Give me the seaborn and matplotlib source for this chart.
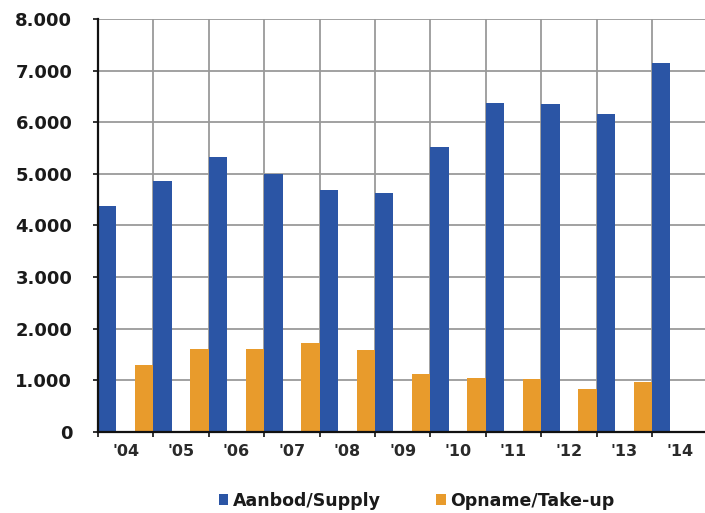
import numpy as np
import pandas as pd
import matplotlib
matplotlib.use("Agg")
import matplotlib.pyplot as plt
from matplotlib.ticker import FixedLocator, NullFormatter
import seaborn as sns

# Office space: supply vs. take-up per year
years = ["'04", "'05", "'06", "'07", "'08", "'09", "'10", "'11", "'12", "'13", "'14"]
supply = [4380, 4860, 5330, 4990, 4680, 4630, 5520, 6380, 6360, 6150, 7140]
takeup = [1290, 1600, 1600, 1710, 1580, 1120, 1050, 1030, 820, 960]
series_names = ["Aanbod/Supply", "Opname/Take-up"]
yticks = [0, 1000, 2000, 3000, 4000, 5000, 6000, 7000, 8000]

colors = {"Aanbod/Supply": "#2B55A5", "Opname/Take-up": "#E89B2C"}

# Supply sits at the left edge of each year slot, take-up at the right edge
rows = []
for i, v in enumerate(supply):
    rows.append({"pos": i - 1 / 3, "value": v, "series": series_names[0]})
for i, v in enumerate(takeup):
    rows.append({"pos": i + 1 / 3, "value": v, "series": series_names[1]})
df = pd.DataFrame(rows)

sns.set_theme(style="white")
plt.rcParams["font.family"] = ["DejaVu Sans"]

fig = plt.figure(figsize=(7.05, 5.13), dpi=100)
ax = fig.add_axes([98 / 705, 81.3 / 513, 607 / 705, 412.7 / 513])

sns.barplot(data=df, x="pos", y="value", hue="series", hue_order=series_names,
            palette=colors, native_scale=True, dodge=False, width=1,
            saturation=1, linewidth=0, ax=ax)

n = len(years)
ax.set_xlim(-0.5, -0.5 + 607 / 55.4)
ax.set_ylim(0, 8000)

# Boundaries between years carry the grid and tick marks; labels sit in between
ax.xaxis.set_major_locator(FixedLocator(np.arange(n) - 0.5))
ax.xaxis.set_major_formatter(NullFormatter())
ax.xaxis.set_minor_locator(FixedLocator(np.arange(n)))
ax.set_xticks(np.arange(n), years, minor=True)
ax.tick_params(axis="x", which="major", bottom=True, length=3.5, width=1.2,
               color="#111111", direction="out")
ax.tick_params(axis="x", which="minor", bottom=True, length=0, pad=9,
               labelsize=11.5, labelcolor="#2a2a2a")
for lab in ax.get_xticklabels(minor=True):
    lab.set_fontweight("bold")

ax.set_yticks(yticks, [f"{v:,}".replace(",", ".") for v in yticks])
ax.tick_params(axis="y", left=True, length=3.5, width=1.2, color="#111111",
               pad=15, labelsize=13, labelcolor="#1a1a1a")
for lab in ax.get_yticklabels():
    lab.set_fontweight("bold")

ax.grid(True, which="major", axis="both", color="#9a9a9a", linewidth=1.3)
ax.set_axisbelow(True)

for side in ["top", "right"]:
    ax.spines[side].set_visible(False)
for side in ["left", "bottom"]:
    ax.spines[side].set_color("#111111")
    ax.spines[side].set_linewidth(1.6)

ax.set_xlabel("")
ax.set_ylabel("")

sns.move_legend(ax, "center", bbox_to_anchor=(0.525, -0.167), ncol=2,
                frameon=False, title=None, handlelength=0.55, handleheight=0.55,
                handletextpad=0.25, columnspacing=3.2,
                prop={"weight": "bold", "size": 12.5})
for t in ax.get_legend().get_texts():
    t.set_color("#1a1a1a")

fig.savefig("out.png", dpi=100)
